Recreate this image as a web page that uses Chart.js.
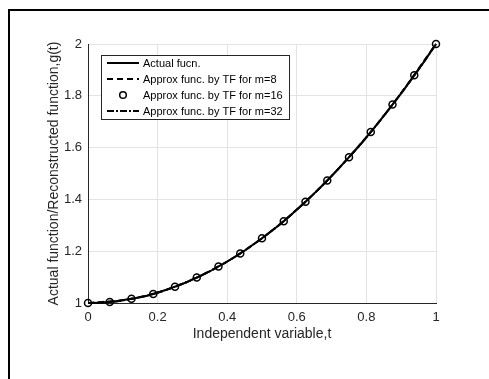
<!DOCTYPE html>
<html>
<head>
<meta charset="utf-8">
<script src="https://cdn.jsdelivr.net/npm/chart.js@4.4.1/dist/chart.umd.min.js"></script>
<style>
    body { margin: 0; background: #fff; }
    #wrap { position: relative; width: 489px; height: 379px; overflow: hidden; }
    #moldura { position: absolute; left: 8px; top: 9px; right: 0; bottom: 0; border-left: 2px solid #000; border-top: 2px solid #000; pointer-events: none; }
</style>
</head>
<body>
<div id="wrap">
    <canvas id="grafico" width="489" height="379"></canvas>
    <div id="moldura"></div>
</div>
<script>
// valores
const tReal = [0, 0.03125, 0.0625, 0.09375, 0.125, 0.15625, 0.1875, 0.21875, 0.25, 0.28125, 0.3125, 0.34375, 0.375, 0.40625, 0.4375, 0.46875, 0.5, 0.53125, 0.5625, 0.59375, 0.625, 0.65625, 0.6875, 0.71875, 0.75, 0.78125, 0.8125, 0.84375, 0.875, 0.90625, 0.9375, 0.96875, 1];
const gReal = [1, 1.001, 1.004, 1.009, 1.016, 1.024, 1.035, 1.048, 1.063, 1.079, 1.098, 1.118, 1.141, 1.165, 1.191, 1.220, 1.25, 1.282, 1.316, 1.353, 1.391, 1.431, 1.473, 1.517, 1.563, 1.610, 1.660, 1.712, 1.766, 1.821, 1.879, 1.938, 2];

const t8 = [0, 0.125, 0.25, 0.375, 0.5, 0.625, 0.75, 0.875, 1];
const g8 = [1, 1.016, 1.063, 1.141, 1.25, 1.391, 1.563, 1.766, 2];

const t16 = [0, 0.0625, 0.125, 0.1875, 0.25, 0.3125, 0.375, 0.4375, 0.5, 0.5625, 0.625, 0.6875, 0.75, 0.8125, 0.875, 0.9375, 1];
const g16 = [1, 1.004, 1.016, 1.035, 1.063, 1.098, 1.141, 1.191, 1.25, 1.316, 1.391, 1.473, 1.563, 1.660, 1.766, 1.879, 2];

const t32 = tReal.slice();
const g32 = gReal.slice();

const xTicks = [0, 0.2, 0.4, 0.6, 0.8, 1];
const yTicks = [1, 1.2, 1.4, 1.6, 1.8, 2];

const legendas = ['Actual fucn.', 'Approx func. by TF for m=8', 'Approx func. by TF for m=16', 'Approx func. by TF for m=32'];

const pares = (xs, ys) => xs.map((x, i) => ({ x: x, y: ys[i] }));

// legenda desenhada dentro da area do grafico (estilo matlab)
const legendaInterna = {
    id: 'legendaInterna',
    afterDraw(chart) {
        const ctx = chart.ctx;
        const x0 = 101, y0 = 55, w = 188, h = 64;
        ctx.save();
        ctx.fillStyle = '#fff';
        ctx.fillRect(x0, y0, w, h);
        ctx.strokeStyle = '#262626';
        ctx.lineWidth = 1;
        ctx.strokeRect(x0 + 0.5, y0 + 0.5, w, h);
        ctx.font = '11px "Liberation Sans", Arial, sans-serif';
        ctx.textBaseline = 'middle';
        chart.data.datasets.forEach((ds, i) => {
            const y = y0 + 8 + i * 16;
            ctx.strokeStyle = '#000';
            ctx.lineWidth = 2;
            if (ds.showLine === false) {
                ctx.setLineDash([]);
                ctx.lineWidth = 1.5;
                ctx.beginPath();
                ctx.arc(123, y, 3.3, 0, Math.PI * 2);
                ctx.stroke();
            } else {
                ctx.setLineDash(ds.borderDash || []);
                ctx.beginPath();
                ctx.moveTo(107, y);
                ctx.lineTo(139, y);
                ctx.stroke();
            }
            ctx.setLineDash([]);
            ctx.fillStyle = '#000';
            ctx.fillText(ds.label, 143, y + 1);
        });
        ctx.restore();
    }
};

const ctx = document.getElementById('grafico');
new Chart(ctx, {
    type: 'line',
    data: {
        datasets: [{
            label: legendas[0],
            data: pares(tReal, gReal),
            borderColor: '#000',
            borderWidth: 2,
            pointRadius: 0,
            clip: false,
            cubicInterpolationMode: 'monotone'
        }, {
            label: legendas[1],
            data: pares(t8, g8),
            borderColor: '#000',
            borderWidth: 2,
            borderDash: [6, 4],
            pointRadius: 0,
            clip: false,
            cubicInterpolationMode: 'monotone'
        }, {
            label: legendas[2],
            data: pares(t16, g16),
            showLine: false,
            pointRadius: 3.5,
            pointBorderWidth: 1.5,
            pointBorderColor: '#000',
            pointBackgroundColor: 'rgba(0,0,0,0)',
            clip: false
        }, {
            label: legendas[3],
            data: pares(t32, g32),
            borderColor: '#000',
            borderWidth: 2,
            borderDash: [7, 2, 2, 2],
            pointRadius: 0,
            clip: false,
            cubicInterpolationMode: 'monotone'
        }]
    },
    options: {
        responsive: false,
        animation: false,
        layout: { padding: { top: 44, right: 53, left: 0, bottom: 0 } },
        plugins: {
            legend: { display: false },
            tooltip: { enabled: false }
        },
        scales: {
            x: {
                type: 'linear',
                min: 0,
                max: 1,
                afterFit: (s) => { s.height = 76; },
                afterBuildTicks: (s) => { s.ticks = xTicks.map(v => ({ value: v })); },
                ticks: {
                    padding: 7,
                    color: '#262626',
                    font: { family: '"Liberation Sans", Arial, sans-serif', size: 13 },
                    callback: (v) => String(Math.round(v * 10) / 10)
                },
                grid: { color: '#e3e3e3', drawTicks: false },
                border: { color: '#262626', width: 1 },
                title: {
                    display: true,
                    text: 'Independent variable,t',
                    color: '#262626',
                    font: { family: '"Liberation Sans", Arial, sans-serif', size: 14 },
                    padding: { top: 0, bottom: 36 }
                }
            },
            y: {
                type: 'linear',
                min: 1,
                max: 2,
                afterFit: (s) => { s.width = 88; },
                afterBuildTicks: (s) => { s.ticks = yTicks.map(v => ({ value: v })); },
                ticks: {
                    padding: 6,
                    color: '#262626',
                    font: { family: '"Liberation Sans", Arial, sans-serif', size: 13 },
                    callback: (v) => String(Math.round(v * 10) / 10)
                },
                grid: { color: '#e3e3e3', drawTicks: false },
                border: { color: '#262626', width: 1 },
                title: {
                    display: true,
                    text: 'Actual function/Reconstructed function,g(t)',
                    color: '#262626',
                    font: { family: '"Liberation Sans", Arial, sans-serif', size: 14 },
                    padding: { top: 46, bottom: 0 }
                }
            }
        }
    },
    plugins: [legendaInterna]
});
</script>
</body>
</html>
